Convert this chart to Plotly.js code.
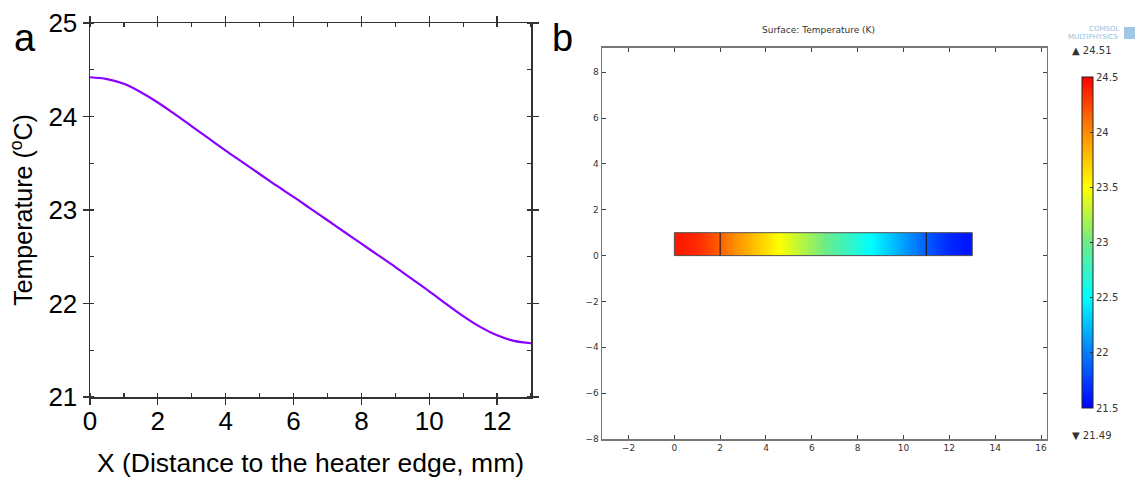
<!DOCTYPE html>
<html><head><meta charset="utf-8">
<script src="https://cdn.plot.ly/plotly-3.0.1.min.js"></script>
<style>html,body{margin:0;padding:0;background:#fff}#chart{width:1136px;height:483px}</style>
</head><body><div id="chart"></div>
<script>
// ---- data ----
const distanceMm = [0,0.5,1,1.5,2,2.5,3,3.5,4,4.5,5,5.5,6,6.5,7,7.5,8,8.5,9,9.5,10,10.5,11,11.5,12,12.5,13];
const temperatureC = [24.42,24.40,24.35,24.26,24.15,24.025,23.895,23.765,23.635,23.51,23.385,23.26,23.14,23.015,22.89,22.765,22.64,22.515,22.39,22.26,22.13,21.995,21.865,21.75,21.66,21.60,21.575];
const domainEdges = [0, 2, 11, 13];
const barY = [0, 1];
const xTicksA = [0, 2, 4, 6, 8, 10, 12];
const yTicksA = [21, 22, 23, 24, 25];
const xTicksB = [-2, 0, 2, 4, 6, 8, 10, 12, 14, 16];
const yTicksB = [-8, -6, -4, -2, 0, 2, 4, 6, 8];
const cbTicks = [21.5, 22, 22.5, 23, 23.5, 24, 24.5];
const cbLabels = ['21.5', '22', '22.5', '23', '23.5', '24', '24.5'];
const tMaxLabel = '24.51', tMinLabel = '21.49';

// cells of the bar between consecutive sample positions
const cellZ = [];
for (let i = 0; i < temperatureC.length - 1; i++) cellZ.push((temperatureC[i] + temperatureC[i + 1]) / 2);

const rainbow = [
  [0, 'rgb(0,0,255)'],
  [0.1667, 'rgb(0,125,255)'],
  [0.3333, 'rgb(0,255,255)'],
  [0.5, 'rgb(110,235,135)'],
  [0.6667, 'rgb(255,255,0)'],
  [0.8333, 'rgb(255,140,0)'],
  [1, 'rgb(255,0,0)']
];

const W = 1136, H = 483;
const px = v => v / W, py = v => 1 - v / H;

const fontA = 'Liberation Sans, Arial, sans-serif';
const fontB = 'DejaVu Sans, sans-serif';

const traces = [
  {
    type: 'scatter', mode: 'lines', x: distanceMm, y: temperatureC,
    line: {color: 'rgb(136,0,255)', width: 2.2, shape: 'spline', smoothing: 1},
    xaxis: 'x', yaxis: 'y', showlegend: false, hoverinfo: 'skip'
  },
  {
    type: 'heatmap', x: distanceMm, y: barY, z: [cellZ],
    zmin: 21.5, zmax: 24.5, colorscale: rainbow, zsmooth: 'best',
    xaxis: 'x2', yaxis: 'y2', hoverinfo: 'skip',
    colorbar: {
      x: px(1082), xanchor: 'left', xpad: 0, ypad: 0,
      y: py(242.5), yanchor: 'middle', len: 331 / H, lenmode: 'fraction',
      thickness: 11, thicknessmode: 'pixels',
      outlinewidth: 1, outlinecolor: '#222',
      tickvals: cbTicks, ticktext: cbLabels, ticks: 'inside', ticklen: 3, tickcolor: '#333',
      tickfont: {family: fontB, size: 10, color: '#333'}
    }
  }
];

const axA = {
  showline: true, linecolor: '#333', linewidth: 1.5, mirror: 'ticks',
  ticks: 'outside', ticklen: 6, tickwidth: 1.2, tickcolor: '#333',
  showgrid: false, zeroline: false,
  tickfont: {family: fontA, size: 26, color: '#000'}
};
const axB = {
  showline: true, linecolor: '#777', linewidth: 1.5, mirror: 'ticks',
  ticks: 'inside', ticklen: 4, tickwidth: 1, tickcolor: '#444',
  showgrid: false, zeroline: false,
  tickfont: {family: fontB, size: 9, color: '#333'}
};

const layout = {
  width: W, height: H, margin: {l: 0, r: 0, t: 0, b: 0},
  paper_bgcolor: '#fff', plot_bgcolor: '#fff', showlegend: false,
  xaxis: Object.assign({}, axA, {
    domain: [px(90), px(531)], range: [0, 13], tickvals: xTicksA,
    ticklabelstandoff: -6,
    minor: {dtick: 1, ticks: 'inside', ticklen: 4, tickcolor: '#333'},
    title: {text: 'X (Distance to the heater edge, mm)', font: {family: fontA, size: 26.5, color: '#000'}, standoff: 18},
    anchor: 'y'
  }),
  yaxis: Object.assign({}, axA, {
    domain: [py(397), py(23)], range: [21, 25], tickvals: yTicksA,
    minor: {dtick: 0.5, ticks: 'inside', ticklen: 4, tickcolor: '#333'},
    title: {text: 'Temperature (<sup>o</sup>C)', font: {family: fontA, size: 25, color: '#000'}, standoff: 8},
    anchor: 'x'
  }),
  xaxis2: Object.assign({}, axB, {
    domain: [px(602), px(1046.5)], range: [-3.156, 16.24], tickvals: xTicksB, anchor: 'y2'
  }),
  yaxis2: Object.assign({}, axB, {
    domain: [py(439), py(47.7)], range: [-8, 9.07], tickvals: yTicksB, anchor: 'x2'
  }),
  shapes: [
    {type: 'rect', xref: 'x2', yref: 'y2', x0: domainEdges[0], x1: domainEdges[3], y0: barY[0], y1: barY[1],
     line: {color: 'rgb(80,80,80)', width: 1}},
    {type: 'line', xref: 'x2', yref: 'y2', x0: domainEdges[1], x1: domainEdges[1], y0: barY[0], y1: barY[1],
     line: {color: 'rgb(50,30,30)', width: 1.2}},
    {type: 'line', xref: 'x2', yref: 'y2', x0: domainEdges[2], x1: domainEdges[2], y0: barY[0], y1: barY[1],
     line: {color: 'rgb(20,30,60)', width: 1.2}},
    {type: 'rect', xref: 'paper', yref: 'paper', x0: px(1124), x1: px(1135), y0: py(39), y1: py(27),
     fillcolor: 'rgb(120,175,215)', line: {width: 0}, opacity: 0.7}
  ],
  annotations: [
    {text: 'a', xref: 'paper', yref: 'paper', x: px(25), y: py(38), xanchor: 'center', yanchor: 'middle', showarrow: false,
     font: {family: fontA, size: 38, color: '#000'}},
    {text: 'b', xref: 'paper', yref: 'paper', x: px(562), y: py(38), xanchor: 'center', yanchor: 'middle', showarrow: false,
     font: {family: fontA, size: 38, color: '#000'}},
    {text: 'Surface: Temperature (K)', xref: 'paper', yref: 'paper', x: px(818), y: py(30), xanchor: 'center', yanchor: 'middle', showarrow: false,
     font: {family: fontB, size: 9, color: '#333'}},
    {text: '▲ ' + tMaxLabel, xref: 'paper', yref: 'paper', x: px(1070), y: py(50), xanchor: 'left', yanchor: 'middle', showarrow: false,
     font: {family: fontB, size: 10, color: '#333'}},
    {text: '▼ ' + tMinLabel, xref: 'paper', yref: 'paper', x: px(1070), y: py(435), xanchor: 'left', yanchor: 'middle', showarrow: false,
     font: {family: fontB, size: 10, color: '#333'}},
    {text: 'COMSOL', xref: 'paper', yref: 'paper', x: px(1121), y: py(29), xanchor: 'right', yanchor: 'middle', showarrow: false,
     font: {family: fontB, size: 7, color: 'rgb(150,190,220)'}},
    {text: 'MULTIPHYSICS', xref: 'paper', yref: 'paper', x: px(1121), y: py(37), xanchor: 'right', yanchor: 'middle', showarrow: false,
     font: {family: fontB, size: 7, color: 'rgb(150,190,220)'}}
  ]
};

Plotly.newPlot('chart', traces, layout, {staticPlot: true, displayModeBar: false});
</script>
</body></html>
